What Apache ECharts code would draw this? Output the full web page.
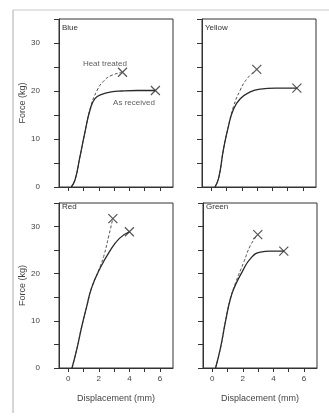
<!DOCTYPE html>
<html>
<head>
<meta charset="utf-8">
<script src="https://cdn.jsdelivr.net/npm/echarts@6/dist/echarts.min.js"></script>
<style>
  html, body { margin: 0; padding: 0; background: #fff; }
  #chart { width: 329px; height: 416px; }
</style>
</head>
<body>
<div id="chart"></div>
<script>
// panel names, in order: top-left, top-right, bottom-left, bottom-right
var panelNames = ['Blue', 'Yellow', 'Red', 'Green'];

// [displacement (mm), force (kg)]
var blueAsReceived = [[0.2, 0], [0.45, 1.5], [0.75, 6], [1.1, 11.5], [1.45, 16.3], [1.75, 18.4], [2.2, 19.3], [2.8, 19.8], [3.5, 20], [4.5, 20.1], [5.7, 20.1]];
var blueHeatTreated = [[0.2, 0], [0.45, 1.5], [0.75, 6], [1.1, 11.5], [1.45, 16.5], [1.9, 20.2], [2.3, 22], [2.8, 23.2], [3.55, 23.9]];

var yellowAsReceived = [[0.25, 0], [0.5, 2], [0.8, 7.8], [1.13, 12.7], [1.46, 16.2], [1.9, 18.4], [2.55, 19.8], [3.2, 20.4], [4.2, 20.6], [5.6, 20.6]];
var yellowHeatTreated = [[0.25, 0], [0.5, 2], [0.8, 7.8], [1.13, 12.7], [1.46, 16.8], [1.9, 20.2], [2.33, 22.5], [2.98, 24.5]];

var redAsReceived = [[0.25, 0], [0.6, 4.5], [0.88, 8.7], [1.2, 12.9], [1.53, 17], [2.06, 21], [2.7, 24.7], [3.35, 27.5], [4.0, 28.9]];
var redHeatTreated = [[0.25, 0], [0.6, 4.5], [0.88, 8.7], [1.2, 12.9], [1.53, 17], [2.06, 21.3], [2.35, 24], [2.65, 28], [2.92, 31.7]];

var greenAsReceived = [[0.22, 0], [0.54, 4.2], [0.87, 9.9], [1.2, 14.8], [1.52, 17.6], [1.96, 20.4], [2.5, 23.2], [3.15, 24.6], [3.8, 24.8], [4.68, 24.8]];
var greenHeatTreated = [[0.22, 0], [0.54, 4.2], [0.87, 9.9], [1.2, 14.8], [1.52, 18], [2.07, 22.5], [2.5, 26], [2.98, 28.3]];

var asReceived = [blueAsReceived, yellowAsReceived, redAsReceived, greenAsReceived];
var heatTreated = [blueHeatTreated, yellowHeatTreated, redHeatTreated, greenHeatTreated];

// ticks
var xLabelValues = [0, 2, 4, 6];
var xTickValues = [0, 1, 2, 3, 4, 5, 6];
var yLabelValues = [0, 10, 20, 30];
var yTickValues = [0, 5, 10, 15, 20, 25, 30, 35];

// text notes in the Blue panel: [x, y, text]
var notes = [[2.4, 25.7, 'Heat treated'], [4.3, 17.5, 'As received']];

var ink = '#2a2a2a';
var textCol = '#444';
var font = 'Liberation Sans, Arial, sans-serif';

var grids = [
  { left: 59, top: 19, width: 114, height: 168 },
  { left: 202, top: 19, width: 114, height: 168 },
  { left: 59, top: 203, width: 114, height: 165 },
  { left: 203, top: 203, width: 114, height: 165 }
];
grids.forEach(function (g) {
  g.show = true;
  g.borderColor = '#333';
  g.borderWidth = 1;
  g.backgroundColor = 'transparent';
});

var xAxes = [], yAxes = [], series = [];
for (var i = 0; i < 4; i++) {
  var bottom = i >= 2, left = i % 2 === 0;
  xAxes.push({
    type: 'value', gridIndex: i, min: -0.6, max: 6.85,
    name: bottom ? 'Displacement (mm)' : '',
    nameLocation: 'middle', nameGap: 26,
    nameTextStyle: { fontSize: 9, color: textCol, fontFamily: font },
    axisLine: { show: true, onZero: false, lineStyle: { color: '#333', width: 1 } },
    axisTick: { show: true, length: 4, customValues: xTickValues, lineStyle: { color: '#333' } },
    axisLabel: { show: bottom, customValues: xLabelValues, fontSize: 8, color: textCol, fontFamily: font, margin: 7 },
    splitLine: { show: false }
  });
  yAxes.push({
    type: 'value', gridIndex: i, min: 0, max: 35,
    name: left ? 'Force (kg)' : '',
    nameLocation: 'middle', nameGap: 28,
    nameTextStyle: { fontSize: 9, color: textCol, fontFamily: font },
    axisLine: { show: true, onZero: false, lineStyle: { color: '#333', width: 1 } },
    axisTick: { show: true, length: 5, customValues: yTickValues, lineStyle: { color: '#333' } },
    axisLabel: { show: left, customValues: yLabelValues, fontSize: 8, color: textCol, fontFamily: font, margin: 19 },
    splitLine: { show: false }
  });

  series.push({
    type: 'line', xAxisIndex: i, yAxisIndex: i, data: heatTreated[i],
    smooth: 0.5, showSymbol: false,
    lineStyle: { color: '#555', width: 1, type: [3, 2] }
  });
  series.push({
    type: 'line', xAxisIndex: i, yAxisIndex: i, data: asReceived[i],
    smooth: 0.5, showSymbol: false,
    lineStyle: { color: ink, width: 1.3 }
  });
  // fracture markers at the end of each curve
  series.push({
    type: 'scatter', xAxisIndex: i, yAxisIndex: i,
    data: [heatTreated[i][heatTreated[i].length - 1], asReceived[i][asReceived[i].length - 1]],
    symbol: 'path://M0,0L10,10M10,0L0,10', symbolSize: 9,
    itemStyle: { color: 'none', borderColor: ink, borderWidth: 1.2 }
  });
}

series.push({
  type: 'scatter', xAxisIndex: 0, yAxisIndex: 0,
  data: notes.map(function (n) { return { value: [n[0], n[1]], name: n[2] }; }),
  symbolSize: 1, itemStyle: { color: 'transparent' },
  label: { show: true, position: 'inside', formatter: '{b}', fontSize: 8, color: '#333', fontFamily: font }
});

var titlePos = [[62, 24], [205, 24], [62, 203], [206, 203]];
var graphics = panelNames.map(function (n, k) {
  return {
    type: 'text', left: titlePos[k][0], top: titlePos[k][1],
    style: { text: n, fontSize: 8, fill: '#333', fontFamily: font }
  };
});
// scan frame
graphics.push({ type: 'line', shape: { x1: 13, y1: 10, x2: 329, y2: 10 }, style: { stroke: '#c8c8c8', lineWidth: 1 } });
graphics.push({ type: 'line', shape: { x1: 13, y1: 10, x2: 13, y2: 413 }, style: { stroke: '#c8c8c8', lineWidth: 1.5 } });

var chart = echarts.init(document.getElementById('chart'));
chart.setOption({
  animation: false,
  backgroundColor: '#fff',
  grid: grids,
  xAxis: xAxes,
  yAxis: yAxes,
  series: series,
  graphic: graphics
});
</script>
</body>
</html>
